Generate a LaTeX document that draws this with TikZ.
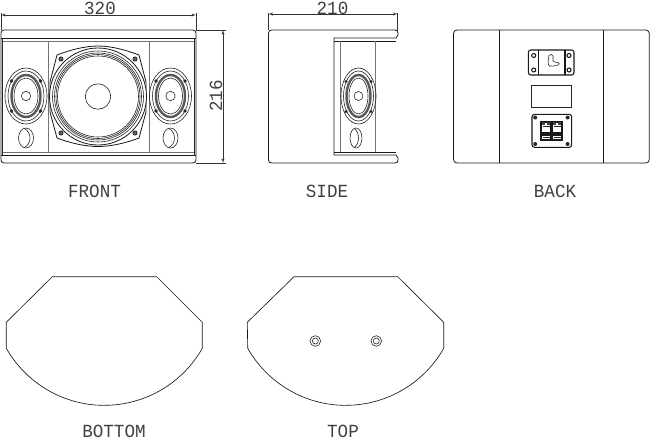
\documentclass[tikz,border=0pt]{standalone}
\usepackage{fontspec}
\setmonofont[FakeStretch=0.95]{Liberation Mono}
\usetikzlibrary{shapes,arrows}
\tikzstyle{outline} = [draw, line width=0.8pt, black!90]
\tikzstyle{heavyline} = [draw, line width=1.05pt, black!90]
\tikzstyle{thinline} = [draw, line width=0.6pt, black!85]
\tikzstyle{greyline} = [draw, line width=0.9pt, black!55]
\tikzstyle{dimline} = [draw, line width=0.55pt, black!80, latex'-latex']
\tikzstyle{extline} = [draw, line width=0.55pt, black!80]
\tikzstyle{viewlabel} = [inner sep=0pt, text=black!75, font=\ttfamily\fontsize{18.5}{20}\selectfont]
\tikzstyle{hole} = [draw, circle, line width=0.7pt, black!90, fill=black!60, inner sep=0pt, minimum size=4.2pt]

\begin{document}
\begin{tikzpicture}[x=1pt, y=-1pt]
    \useasboundingbox (0,0) rectangle (650,440);
    % Place labels
    \node [viewlabel] (FrontLabel) at (94.5,191.5) {FRONT};
    \node [viewlabel] (SideLabel) at (327,191.5) {SIDE};
    \node [viewlabel] (BackLabel) at (555,191.5) {BACK};
    \node [viewlabel] (BottomLabel) at (114,431) {BOTTOM};
    \node [viewlabel] (TopLabel) at (343,431) {TOP};
    \node [viewlabel] (WidthText) at (100,8) {320};
    \node [viewlabel] (DepthText) at (332.5,8) {210};
    \node [viewlabel, rotate=90] (HeightText) at (216,96) {216};
    % Front cabinet
    \draw [outline, rounded corners=3pt] (1,30) rectangle (196,163);
    \draw [outline] (1,38) -- (196,38);
    \draw [greyline] (2.5,41) -- (194.5,41);
    \draw [greyline] (2.5,152) -- (194.5,152);
    \draw [outline] (1,155) -- (196,155);
    \draw [thinline] (2.5,38) -- (2.5,155);
    \draw [thinline] (194.5,38) -- (194.5,155);
    \draw [greyline] (48,41) -- (48,152);
    \draw [greyline] (149,41) -- (149,152);
    % Woofer
    \draw [outline, fill=white] (57,55) .. controls (70,50) and (85,46) .. (98,46)
        .. controls (111,46) and (126,50) .. (139,55) -- (146,82) -- (146,112) -- (139,138)
        .. controls (126,143) and (111,146.5) .. (98,146.5)
        .. controls (85,146.5) and (70,143) .. (57,138) -- (50,112) -- (50,82) -- cycle;
    \draw [outline, fill=white] (98,96.5) circle (48.5);
    \foreach \r in {45.5,43.5,42,40.5}
        \draw [thinline] (98,96.5) circle (\r);
    \draw [thinline] (98,96.5) circle (12.7);
    \node [hole] (WooferScrewA) at (61,59) {};
    \node [hole] (WooferScrewB) at (135,59) {};
    \node [hole] (WooferScrewC) at (61,133) {};
    \node [hole] (WooferScrewD) at (135,133) {};
    % Tweeters and ports on the front
    \foreach \cx in {26,170.5} {
        \draw [thinline] (\cx,96) ellipse [x radius=21, y radius=28];
        \draw [thinline] (\cx,96) ellipse [x radius=18, y radius=25];
        \draw [line width=2.4pt, black!65] (\cx,96) ellipse [x radius=14.5, y radius=21];
        \draw [thinline] (\cx,96) ellipse [x radius=12, y radius=18];
        \draw [thinline] (\cx,96) circle (4.7);
        \foreach \dx in {-14.5,14.5} \foreach \dy in {-15,15}
            \fill [black!85] (\cx+\dx,96+\dy) circle (1.8);
        \draw [thinline] (\cx,138) ellipse [x radius=7.5, y radius=10];
        \draw [thinline] (\cx-2,128.3) .. controls (\cx+6,132) and (\cx+6,144) .. (\cx-2,147.7);
    }
    % Front dimensions
    \coordinate (WidthL) at (1,15);
    \coordinate (WidthR) at (196,15);
    \coordinate (WidthLtop) at (1,13);
    \coordinate (WidthRtop) at (196,13);
    \coordinate (WidthLlow) at (1,30);
    \coordinate (WidthRlow) at (196,30);
    \coordinate (HeightT) at (223,30);
    \coordinate (HeightB) at (223,163);
    \coordinate (HeightTend) at (226,30);
    \coordinate (HeightBend) at (226,163);
    \coordinate (FrontTR) at (196,30);
    \coordinate (FrontBR) at (196,163);
    \path [dimline] (WidthL) -- (WidthR);
    \path [extline] (WidthLtop) -- (WidthLlow);
    \path [extline] (WidthRtop) -- (WidthRlow);
    \path [dimline] (HeightT) -- (HeightB);
    \path [extline] (FrontTR) -- (HeightTend);
    \path [extline] (FrontBR) -- (HeightBend);
    % Side view
    \draw [outline] (334,155) -- (396,155) -- (398,158) -- (398,160) .. controls (398,162) and (397,163) .. (395,163)
        -- (272,163) .. controls (270,163) and (268.5,162) .. (268.5,160)
        -- (268.5,33) .. controls (268.5,31) and (270,30) .. (272,30)
        -- (395,30) .. controls (397,30) and (398,31) .. (398,33) -- (398,35) -- (396,38) -- (334,38) -- cycle;
    \draw [outline] (334,41) -- (396,41);
    \draw [outline] (334,152) -- (396,152);
    \draw [greyline] (340,41) -- (340,152);
    \draw [greyline] (375,41) -- (375,152);
    \draw [thinline] (358.5,96) ellipse [x radius=17.5, y radius=28];
    \draw [thinline] (358.5,96) ellipse [x radius=15, y radius=25];
    \draw [line width=2.4pt, black!65] (358.5,96) ellipse [x radius=12, y radius=21];
    \draw [thinline] (358.5,96) ellipse [x radius=9.5, y radius=18];
    \draw [thinline] (358.5,96) circle (4.5);
    \foreach \dx in {-12.5,12.5} \foreach \dy in {-15,15}
        \fill [black!85] (358.5+\dx,96.5+\dy) circle (1.7);
    \draw [thinline] (356,138) ellipse [x radius=6, y radius=10];
    \draw [thinline] (354,128.3) .. controls (360,132) and (360,144) .. (354,147.7);
    % Side dimension
    \coordinate (DepthL) at (268.5,14);
    \coordinate (DepthR) at (397.5,14);
    \coordinate (DepthLtop) at (268.5,12.5);
    \coordinate (DepthRtop) at (397.5,12.5);
    \coordinate (DepthLlow) at (268.5,30);
    \coordinate (DepthRlow) at (397.5,32);
    \path [dimline] (DepthL) -- (DepthR);
    \path [extline] (DepthLtop) -- (DepthLlow);
    \path [extline] (DepthRtop) -- (DepthRlow);
    % Back view
    \draw [outline, rounded corners=3.5pt] (453.5,30) rectangle (649.3,163);
    \draw [outline] (499.3,30) -- (499.3,163);
    \draw [outline] (603.3,30) -- (603.3,163);
    % Handle plate
    \draw [heavyline, rounded corners=2.5pt] (528.3,50) rectangle (574,75);
    \draw [heavyline] (538.3,50) -- (538.3,75);
    \draw [heavyline] (565,50) -- (565,75);
    \foreach \px in {533.7,569} \foreach \py in {55.5,70}
        \draw [heavyline] (\px,\py) circle (2);
    \draw [thinline] (549,55.5) .. controls (550,54) and (552.5,54) .. (553,56)
        -- (553,61) .. controls (553.5,62.5) and (556,62) .. (558,62.5)
        .. controls (559.5,63) and (559.5,64.5) .. (558,65)
        .. controls (554,66) and (551,66.5) .. (549.5,66)
        .. controls (547.5,65) and (548,60) .. (549,55.5) -- cycle;
    % Name plate
    \draw [greyline] (531.3,85.7) -- (571.7,85.7);
    \draw [thinline] (531.3,85.7) rectangle (571.7,107.7);
    % Terminal plate
    \draw [heavyline, rounded corners=2.5pt] (532,114.3) rectangle (571.7,147.3);
    \foreach \px in {535.2,567.6} \foreach \py in {117.5,144}
        \fill [black!85] (\px,\py) circle (2);
    \foreach \tx in {541,552} {
        \draw [heavyline] (\tx,122) rectangle (\tx+10,140);
        \draw [thinline] (\tx+1.5,126) -- (\tx+8.5,126);
        \draw [thinline] (\tx+1.5,137) -- (\tx+8.5,137);
        \fill [black!90] (\tx,131.5) rectangle (\tx+10,135.5);
        \fill [black!75] (\tx+1,122) rectangle (\tx+3.5,125);
        \fill [black!75] (\tx+6,122) rectangle (\tx+8.5,125);
    }
    % Bottom view
    \draw [outline, line width=0.65pt] (52.3,276.7) -- (156.7,276.7) -- (202.3,322.3) -- (202.3,348.3)
        arc [start angle=29.6, end angle=150.4, radius=112.7] -- (6.3,322.3) -- cycle;
    % Top view
    \draw [outline, line width=0.65pt] (294,276.7) -- (397.7,276.7) -- (443.7,322.3) -- (443.7,348.3)
        arc [start angle=29.6, end angle=150.4, radius=112.7] -- (247.3,322.3) -- cycle;
    \foreach \hx in {315.3,376.3} {
        \draw [thinline] (\hx,341) circle (5.3);
        \draw [thinline] (\hx,341) circle (3);
    }
\end{tikzpicture}
\end{document}
